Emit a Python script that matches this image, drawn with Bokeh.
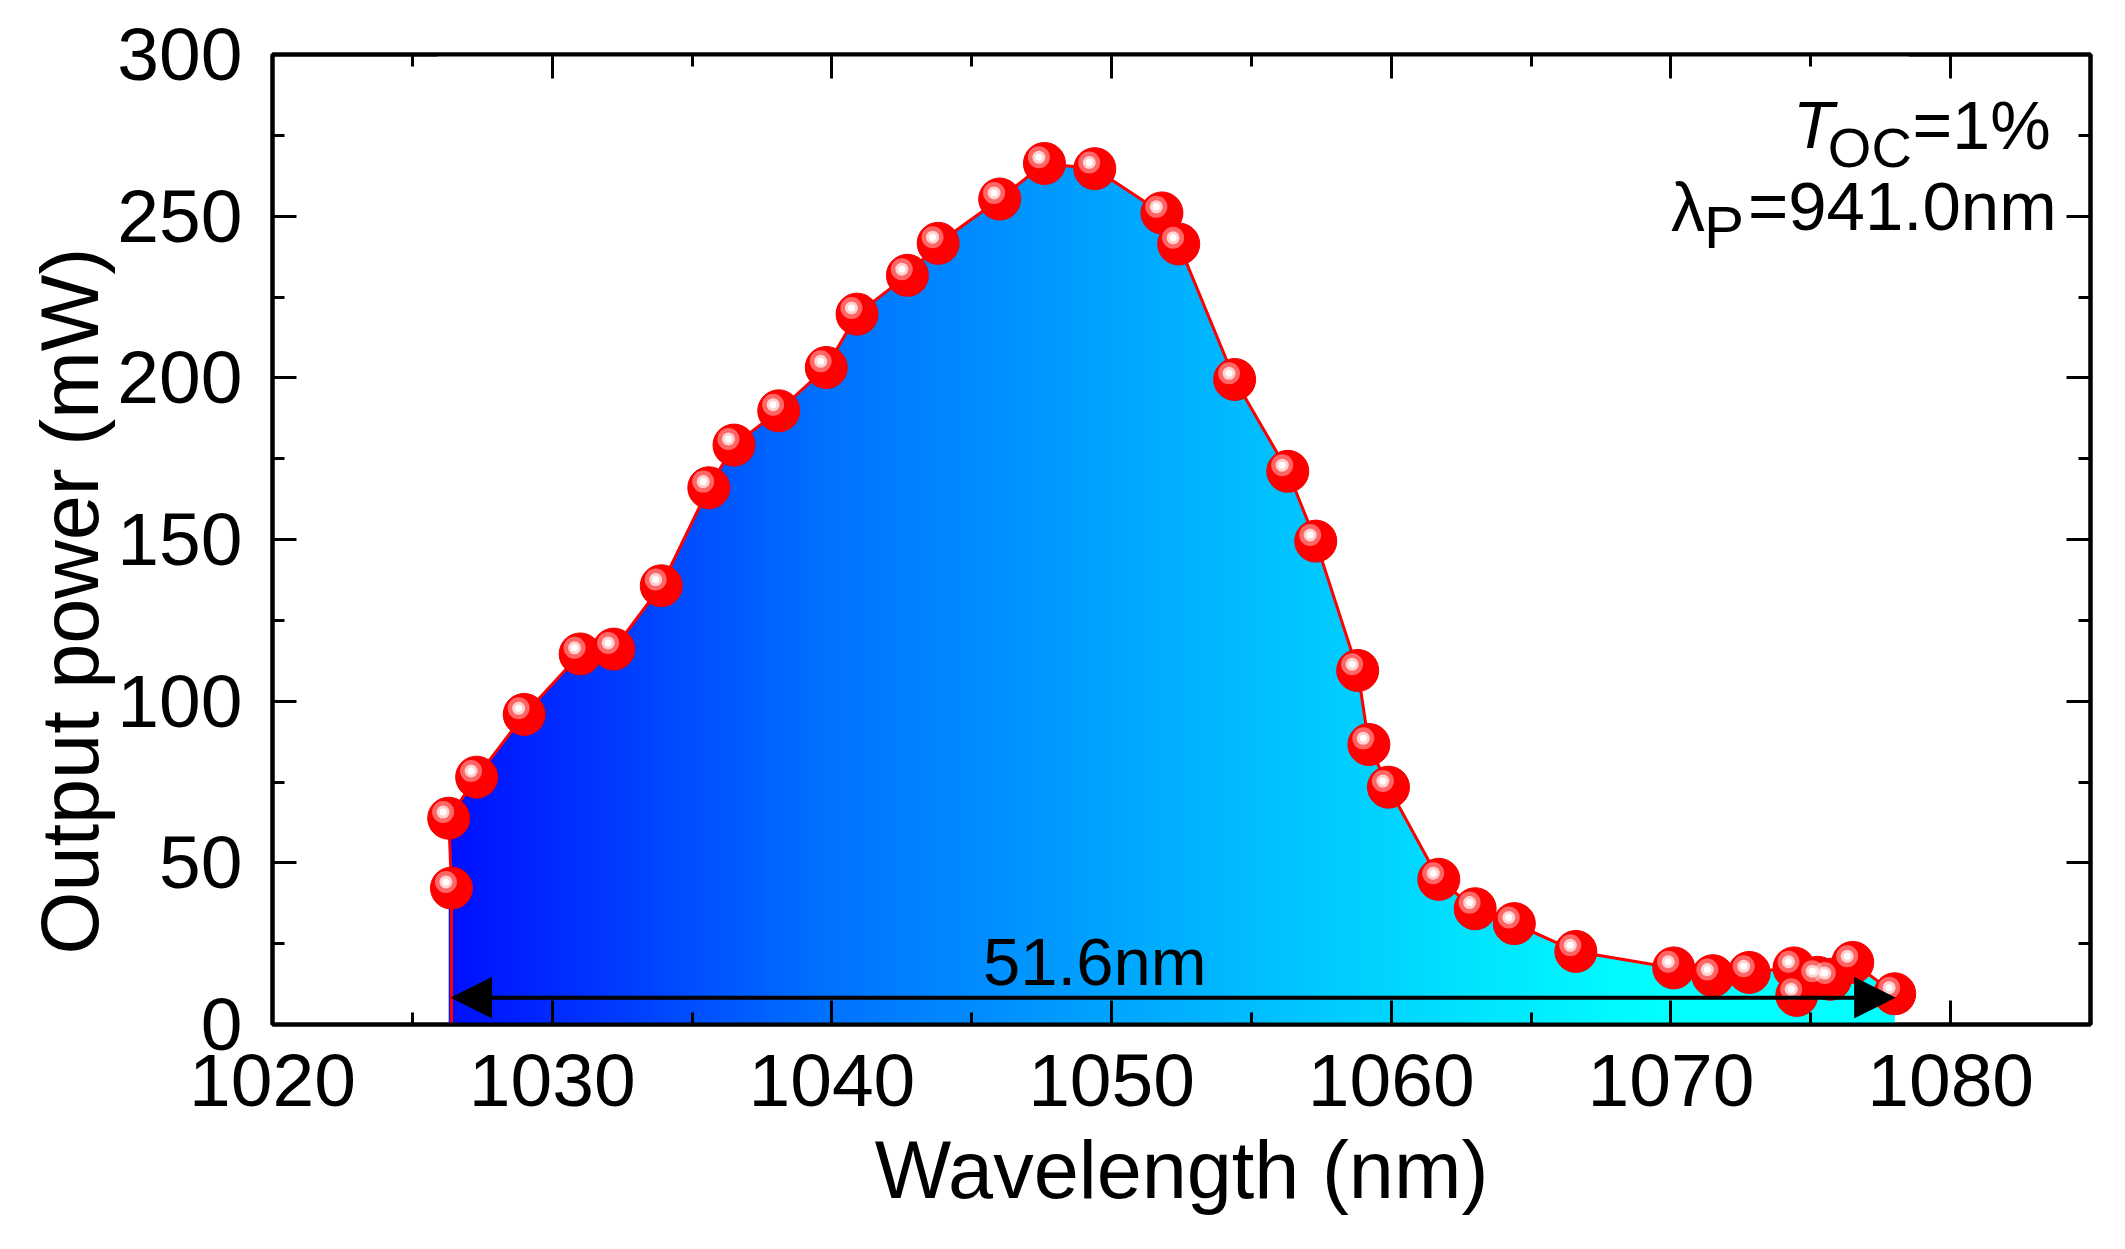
import numpy as np
from bokeh.plotting import figure
from bokeh.models import (Range1d, LinearAxis, SingleIntervalTicker, Label, Arrow, Title,
                          NormalHead, CustomJSTickFormatter, ColumnDataSource)
from bokeh.transform import dodge
from bokeh.embed import file_html
from bokeh.resources import INLINE

wavelength = [1026.4, 1026.3, 1027.3, 1029.0, 1031.0, 1032.2, 1033.9, 1035.6, 1036.5,
              1038.1, 1039.8, 1040.9, 1042.7, 1043.8, 1046.0, 1047.6, 1049.4, 1051.8,
              1052.4, 1054.4, 1056.3, 1057.3, 1058.8, 1059.2, 1059.9, 1061.7, 1063.0,
              1064.4, 1066.6, 1070.1, 1071.5, 1072.8, 1074.4, 1074.5, 1075.25, 1075.7,
              1076.5, 1078.0]
power = [42.2, 63.8, 76.5, 95.9, 114.6, 116.1, 135.7, 166.0, 179.2,
         189.8, 203.2, 219.7, 231.7, 241.6, 255.3, 266.3, 264.7, 251.0,
         241.4, 199.5, 171.1, 149.5, 109.5, 86.6, 73.4, 44.9, 35.8,
         31.2, 22.6, 17.5, 15.1, 16.1, 17.5, 9.0, 14.6, 14.0,
         19.2, 9.5]

span_start = 1026.4
span_end = 1078.0
span_text = "51.6nm"

FONT = "Liberation Sans"

p = figure(width=2125, height=1249,
           x_range=Range1d(1020, 1085), y_range=Range1d(0, 300),
           output_backend="svg", toolbar_location=None,
           min_border_left=272, min_border_right=35,
           min_border_top=54, min_border_bottom=225)
p.xgrid.visible = False
p.ygrid.visible = False
p.background_fill_color = "white"
p.border_fill_color = "white"
p.outline_line_color = "black"
p.outline_line_width = 4

xt = SingleIntervalTicker(interval=10, num_minor_ticks=2)
yt = SingleIntervalTicker(interval=50, num_minor_ticks=2)
xaxis = p.below[0]
yaxis = p.left[0]
xaxis.ticker = xt
yaxis.ticker = yt
p.add_layout(LinearAxis(ticker=xt, formatter=CustomJSTickFormatter(code="return ''")), "above")
p.add_layout(LinearAxis(ticker=yt, formatter=CustomJSTickFormatter(code="return ''")), "right")

for ax in p.axis:
    ax.axis_line_width = 4
    ax.major_tick_line_width = 3
    ax.minor_tick_line_width = 3
    ax.major_tick_in = 24
    ax.major_tick_out = 0
    ax.minor_tick_in = 12
    ax.minor_tick_out = 0
    ax.major_label_text_font = FONT
    ax.major_label_text_font_size = "75px"
    ax.major_label_text_color = "black"

xaxis.major_label_standoff = 30
yaxis.major_label_standoff = 30
xaxis.axis_label = "Wavelength (nm)"
xaxis.axis_label_text_font = FONT
xaxis.axis_label_text_font_size = "81px"
xaxis.axis_label_text_font_style = "normal"
xaxis.axis_label_text_color = "black"
xaxis.axis_label_standoff = 16

# y title sits a little below the frame centre in the original
p.add_layout(Title(text="Output power (mW)", align="left", offset=70, standoff=0,
                   text_font=FONT, text_font_size="81px", text_font_style="normal",
                   text_color="black"), "left")

# gradient fill under the curve: image + white mask above the curve
x_lo, x_hi = min(wavelength), max(wavelength)
grad_pos = [1026.4, 1039.5, 1052.3, 1063.0, 1069.5]
grad_g = [16, 112, 176, 228, 255]
ncol = 600
cols = np.linspace(x_lo, x_hi, ncol)
img = np.empty((2, ncol), dtype=np.uint32)
view = img.view(dtype=np.uint8).reshape((2, ncol, 4))
view[:, :, 0] = 0
view[:, :, 1] = np.interp(cols, grad_pos, grad_g).astype(np.uint8)
view[:, :, 2] = 255
view[:, :, 3] = 255
p.image_rgba(image=[img], x=x_lo, y=0, dw=x_hi - x_lo, dh=300)
pad = 0.5
mask_x = [wavelength[0] - pad] + wavelength + [wavelength[-1] + pad, wavelength[-1] + pad, wavelength[0] - pad]
mask_y = [power[0]] + power + [power[-1], 310, 310]
p.patch(x=mask_x, y=mask_y, fill_color="white", line_color=None)

src = ColumnDataSource(dict(x=wavelength, y=power))
p.segment(x0=[wavelength[0]], y0=[0], x1=[wavelength[0]], y1=[power[0]],
          line_color="red", line_width=3)
p.line("x", "y", source=src, line_color="red", line_width=3)
p.scatter("x", "y", source=src, size=42, fill_color="#ff0000", line_color="#f00000")
hx = dodge("x", -0.2, range=p.x_range)
hy = dodge("y", 1.9, range=p.y_range)
p.scatter(hx, hy, source=src, size=22, fill_color="white", fill_alpha=0.4, line_color=None)
p.scatter(hx, hy, source=src, size=13, fill_color="white", fill_alpha=0.7, line_color=None)
p.scatter(hx, hy, source=src, size=7, fill_color="white", line_color=None)

p.add_layout(Arrow(start=NormalHead(size=40, fill_color="black", line_color="black"),
                   end=NormalHead(size=40, fill_color="black", line_color="black"),
                   x_start=span_start, y_start=8.3, x_end=span_end, y_end=8.3,
                   line_color="black", line_width=4))
p.add_layout(Label(x=1049.4, y=19.6, text=span_text,
                   text_align="center", text_baseline="alphabetic",
                   text_font=FONT, text_font_size="67px", text_color="black"))

# annotation, top right
def txt(x, y, s, size, style="normal"):
    p.add_layout(Label(x=x, y=y, text=s, text_align="left", text_baseline="alphabetic",
                       text_font=FONT, text_font_size=size, text_font_style=style,
                       text_color="black"))

txt(1074.36, 278.3, "T", "67px", "italic")
txt(1075.61, 271.2, "OC", "56px")
txt(1078.64, 278.3, "=1%", "68px")
txt(1070.0, 252.9, "λ", "68px")
txt(1071.18, 246.4, "P", "60px")
txt(1072.75, 252.9, "=941.0nm", "69px")

open("out.html", "w").write(file_html(p, INLINE))
